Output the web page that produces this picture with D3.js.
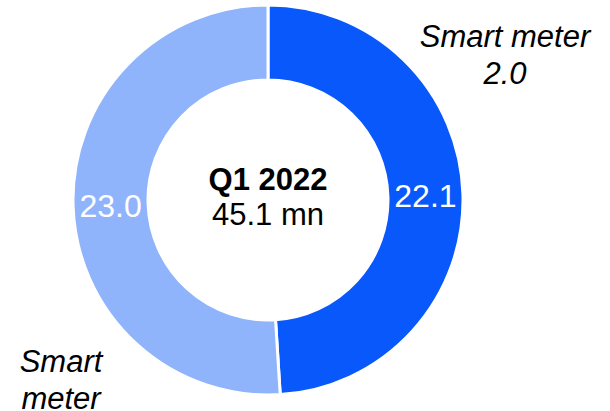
<!DOCTYPE html>
<html>
<head>
<meta charset="utf-8">
<script src="https://cdn.jsdelivr.net/npm/d3@7"></script>
<style>
  html, body { margin: 0; padding: 0; background: #fff; }
  text { font-family: Arial, "Liberation Sans", sans-serif; }
</style>
</head>
<body>
<div id="chart"></div>
<script>
// data
const categories = ['Smart meter 2.0', 'Smart meter'];
const values = [22.1, 23.0];
const colors = ['#0858FB', '#8FB4FB'];
const centerTitle = 'Q1 2022';
const centerTotal = '45.1 mn';
const outsideLabels = [['Smart meter', '2.0'], ['Smart', 'meter']];

const width = 610, height = 411;
const cx = 268, cy = 200;
const outerR = 195, innerR = 120;

const svg = d3.select('#chart')
  .append('svg')
  .attr('width', width)
  .attr('height', height);

const g = svg.append('g')
  .attr('transform', `translate(${cx}, ${cy})`);

const pie = d3.pie().sort(null).value(d => d);
const arcs = pie(values);
const arc = d3.arc().innerRadius(innerR).outerRadius(outerR);

g.selectAll('path')
  .data(arcs)
  .enter()
  .append('path')
  .attr('d', arc)
  .attr('fill', (d, i) => colors[i])
  .attr('stroke', 'white')
  .style('stroke-width', '3px');

// values inside the ring
g.selectAll('text.val')
  .data(arcs)
  .enter()
  .append('text')
  .attr('class', 'val')
  .text(d => d.data.toFixed(1))
  .attr('transform', d => {
    const [x, y] = arc.centroid(d);
    return `translate(${x}, ${y})`;
  })
  .attr('dy', '0.38em')
  .style('text-anchor', 'middle')
  .style('font-size', '32px')
  .style('fill', 'white');

// centre label
g.append('text')
  .attr('y', -10)
  .style('text-anchor', 'middle')
  .style('font-size', '31px')
  .style('font-weight', 'bold')
  .text(centerTitle);

g.append('text')
  .attr('y', 25)
  .style('text-anchor', 'middle')
  .style('font-size', '31px')
  .text(centerTotal);

// category labels outside the ring
const outsidePos = [[505, 47], [61, 372]];
outsideLabels.forEach((lines, i) => {
  const t = svg.append('text')
    .attr('x', outsidePos[i][0])
    .attr('y', outsidePos[i][1])
    .style('text-anchor', 'middle')
    .style('font-size', '31px')
    .style('font-style', 'italic');
  lines.forEach((l, j) => {
    t.append('tspan')
      .attr('x', outsidePos[i][0])
      .attr('dy', j === 0 ? 0 : 37)
      .text(l);
  });
});
</script>
</body>
</html>
